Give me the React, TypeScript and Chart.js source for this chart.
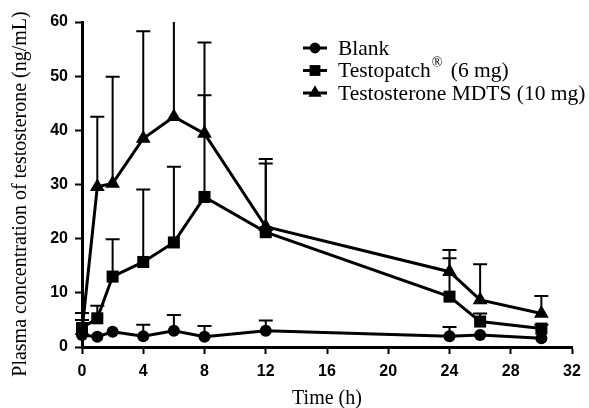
import React, { useEffect, useRef } from "react";
import { Chart, registerables } from "chart.js";

Chart.register(...registerables);

const times = [0, 1, 2, 4, 6, 8, 12, 24, 26, 30];
const blank = [2.2, 1.9, 2.8, 2.0, 3.0, 1.9, 3.0, 2.0, 2.2, 1.6];
const blankUpper = [null, null, null, 4.1, 5.9, 3.9, 4.9, 3.7, null, null];
const testopatch = [3.5, 5.3, 13.0, 15.7, 19.3, 27.7, 21.2, 9.3, 4.7, 3.4];
const testopatchUpper = [5.0, 7.6, 19.9, 29.1, 33.3, 46.5, 33.9, 16.4, 6.2, 4.1];
const mdts = [3.0, 29.6, 30.2, 38.5, 42.5, 39.4, 22.2, 13.9, 8.7, 6.2];
const mdtsUpper = [6.3, 42.5, 49.9, 58.3, 63, 56.2, 34.7, 17.9, 15.3, 9.4];

const seriesNames = ["Blank", "Testopatch", "Testosterone MDTS (10 mg)"];
const pointStyles = ["circle", "rect", "triangle"];
const pointRadii = [6, 8.5, 8.5];
const uppers = [blankUpper, testopatchUpper, mdtsUpper];

const xTicks = [0, 4, 8, 12, 16, 20, 24, 28, 32];
const yTicks = [0, 10, 20, 30, 40, 50, 60];
const yTitle = "Plasma concentration of testosterone (ng/mL)";
const xTitle = "Time (h)";

function drawMarker(ctx: CanvasRenderingContext2D, style: string, x: number, y: number, r: number) {
  ctx.beginPath();
  if (style === "circle") {
    ctx.arc(x, y, r, 0, Math.PI * 2);
  } else if (style === "rect") {
    const s = Math.SQRT1_2 * r;
    ctx.rect(x - s, y - s, 2 * s, 2 * s);
  } else {
    let rad = 0;
    ctx.moveTo(x + Math.sin(rad) * r, y - Math.cos(rad) * r);
    rad += (2 * Math.PI) / 3;
    ctx.lineTo(x + Math.sin(rad) * r, y - Math.cos(rad) * r);
    rad += (2 * Math.PI) / 3;
    ctx.lineTo(x + Math.sin(rad) * r, y - Math.cos(rad) * r);
    ctx.closePath();
  }
  ctx.fill();
}

const errorBarPlugin = {
  id: "errorBars",
  beforeDatasetsDraw(chart: any) {
    const ctx = chart.ctx;
    const xs = chart.scales.x;
    const ys = chart.scales.y;
    const area = chart.chartArea;
    ctx.save();
    ctx.beginPath();
    ctx.rect(area.left - 10, area.top, area.right - area.left + 20, area.bottom - area.top);
    ctx.clip();
    ctx.strokeStyle = "#000";
    ctx.lineWidth = 2;
    chart.data.datasets.forEach((ds: any, i: number) => {
      const up = uppers[i];
      ds.data.forEach((pt: any, j: number) => {
        const u = up[j];
        if (u == null) return;
        const px = xs.getPixelForValue(pt.x);
        const py = ys.getPixelForValue(pt.y);
        const pu = ys.getPixelForValue(u);
        ctx.beginPath();
        ctx.moveTo(px, py);
        ctx.lineTo(px, pu);
        ctx.moveTo(px - 7, pu);
        ctx.lineTo(px + 7, pu);
        ctx.stroke();
      });
    });
    ctx.restore();
  },
};

const legendPlugin = {
  id: "customLegend",
  afterDraw(chart: any) {
    const ctx = chart.ctx;
    ctx.save();
    const x0 = 303;
    const x1 = 327;
    const tx = 338;
    const baseY = 48;
    const gap = 22.5;
    const font = "21.5px 'Liberation Serif', serif";
    ctx.fillStyle = "#000";
    ctx.strokeStyle = "#000";
    for (let i = 0; i < 3; i++) {
      const y = baseY + gap * i;
      ctx.lineWidth = 3;
      ctx.beginPath();
      ctx.moveTo(x0, y);
      ctx.lineTo(x1, y);
      ctx.stroke();
      drawMarker(ctx, pointStyles[i], (x0 + x1) / 2, y, pointRadii[i] * 0.9);
      ctx.textBaseline = "middle";
      ctx.textAlign = "left";
      ctx.font = font;
      if (i === 1) {
        const t1 = seriesNames[1];
        ctx.fillText(t1, tx, y + 1);
        const w1 = ctx.measureText(t1).width;
        ctx.font = "14px 'Liberation Serif', serif";
        ctx.fillText("\u00AE", tx + w1 + 1, y - 7);
        const w2 = ctx.measureText("\u00AE").width;
        ctx.font = font;
        ctx.fillText(" (6 mg)", tx + w1 + w2 + 4, y + 1);
      } else {
        ctx.fillText(seriesNames[i], tx, y + 1);
      }
    }
    // y axis title
    ctx.save();
    ctx.translate(21, 194);
    ctx.rotate(-Math.PI / 2);
    ctx.font = "20px 'Liberation Serif', serif";
    ctx.textAlign = "center";
    ctx.textBaseline = "middle";
    ctx.fillText(yTitle, 0, 0);
    ctx.restore();
    ctx.restore();
  },
};

export default function App() {
  const ref = useRef<HTMLCanvasElement>(null);
  useEffect(() => {
    if (!ref.current) return;
    const series = [blank, testopatch, mdts];
    const chart = new Chart(ref.current, {
      type: "line",
      data: {
        datasets: series.map((s, i) => ({
          label: seriesNames[i],
          data: times.map((t, j) => ({ x: t, y: s[j] })),
          borderColor: "#000",
          backgroundColor: "#000",
          borderWidth: 3,
          pointStyle: pointStyles[i] as any,
          pointRadius: pointRadii[i],
          pointBorderWidth: 0,
          pointBackgroundColor: "#000",
          tension: 0,
          clip: false as any,
        })),
      },
      options: {
        responsive: true,
        maintainAspectRatio: false,
        animation: false,
        layout: { padding: { left: 0, right: 17, top: 22, bottom: 0 } },
        plugins: { legend: { display: false }, tooltip: { enabled: false } },
        scales: {
          x: {
            type: "linear",
            min: 0,
            max: 32,
            afterBuildTicks: (s: any) => {
              s.ticks = xTicks.map((v) => ({ value: v }));
            },
            afterFit: (s: any) => {
              s.height = 61;
            },
            grid: { drawOnChartArea: false, drawTicks: true, tickLength: 7, tickWidth: 2, tickColor: "#000" },
            border: { display: true, color: "#000", width: 3 },
            ticks: {
              color: "#000",
              padding: 8,
              font: { family: "'Liberation Sans', Arial, sans-serif", weight: "bold", size: 16 },
            },
            title: {
              display: true,
              text: xTitle,
              color: "#000",
              font: { family: "'Liberation Serif', serif", size: 20 },
              padding: { top: 8, bottom: -3 },
            },
          },
          y: {
            type: "linear",
            min: 0,
            max: 60,
            afterBuildTicks: (s: any) => {
              s.ticks = yTicks.map((v) => ({ value: v }));
            },
            afterFit: (s: any) => {
              s.width = 82;
            },
            grid: { drawOnChartArea: false, drawTicks: true, tickLength: 7, tickWidth: 2, tickColor: "#000" },
            border: { display: true, color: "#000", width: 3 },
            ticks: {
              color: "#000",
              padding: 7,
              font: { family: "'Liberation Sans', Arial, sans-serif", weight: "bold", size: 16 },
            },
            title: { display: false },
          },
        },
      },
      plugins: [errorBarPlugin, legendPlugin],
    });
    return () => chart.destroy();
  }, []);
  return (
    <div style={{ position: "absolute", left: 0, top: 0, width: 589, height: 408, background: "#fff" }}>
      <canvas ref={ref} />
    </div>
  );
}
